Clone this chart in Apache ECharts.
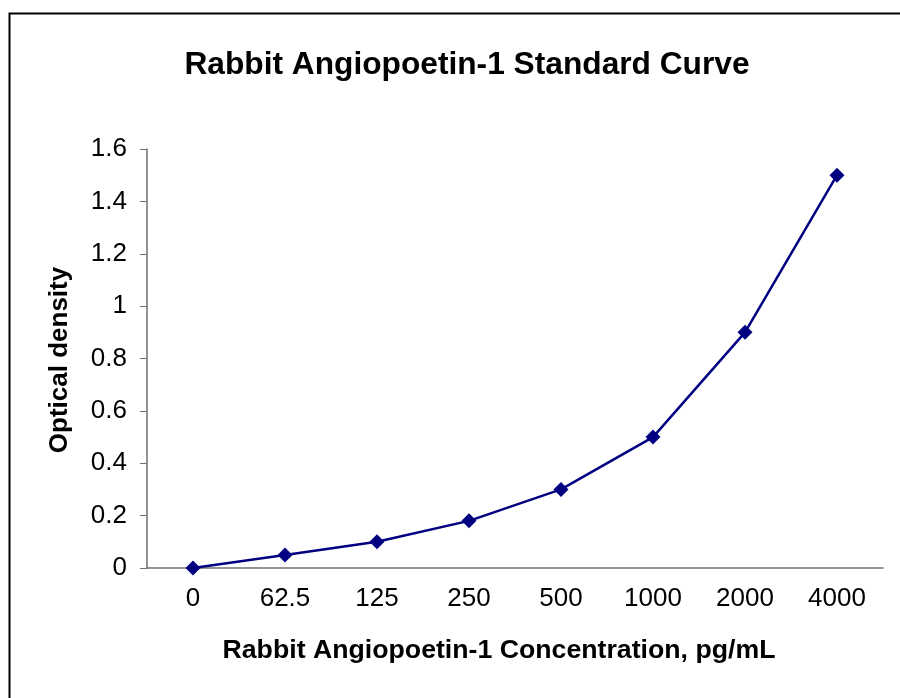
<!DOCTYPE html>
<html>
<head>
<meta charset="utf-8">
<script src="https://cdn.jsdelivr.net/npm/echarts@6/dist/echarts.min.js"></script>
<style>
  html, body { margin: 0; padding: 0; background: #fff; }
  #chart { width: 900px; height: 698px; }
</style>
</head>
<body>
<div id="chart"></div>
<script>
// 标准曲线数据
var concentrations = ['0', '62.5', '125', '250', '500', '1000', '2000', '4000'];
var odValues = [0, 0.05, 0.1, 0.18, 0.3, 0.5, 0.9, 1.5];

var chart = echarts.init(document.getElementById('chart'));
var fontFam = 'Liberation Sans, Arial, sans-serif';

var option = {
    backgroundColor: '#fff',
    animation: false,
    title: [{
        text: 'Rabbit Angiopoetin-1 Standard Curve',
        left: 462, top: 44, textAlign: 'center',
        textStyle: { fontFamily: fontFam, fontSize: 31.7, fontWeight: 'bold', color: '#000' }
    }, {
        text: 'Rabbit Angiopoetin-1 Concentration, pg/mL',
        left: 494, top: 632, textAlign: 'center',
        textStyle: { fontFamily: fontFam, fontSize: 26.7, fontWeight: 'bold', color: '#000' }
    }],
    graphic: [{
        type: 'rect',
        shape: { x: 9.5, y: 13.5, width: 900, height: 700 },
        style: { fill: 'none', stroke: '#000', lineWidth: 2 }
    }, {
        type: 'text',
        x: 60, y: 360, rotation: Math.PI / 2,
        style: {
            text: 'Optical density', fontFamily: fontFam, fontSize: 26, fontWeight: 'bold',
            fill: '#000', align: 'center', verticalAlign: 'middle'
        }
    }],
    grid: { left: 147, right: 17, top: 149, bottom: 130 },
    xAxis: {
        type: 'category',
        data: concentrations,
        boundaryGap: true,
        axisLine: { lineStyle: { color: '#707070', width: 1.5 } },
        axisTick: { length: 7, lineStyle: { color: '#333' } },
        axisLabel: { color: '#000', fontFamily: fontFam, fontSize: 26, margin: 18 }
    },
    yAxis: {
        type: 'value',
        min: 0, max: 1.6, interval: 0.2,
        axisLine: { show: true, lineStyle: { color: '#707070', width: 1.5 } },
        axisTick: { show: true, length: 7, lineStyle: { color: '#707070' } },
        splitLine: { show: false },
        axisLabel: {
            color: '#000', fontFamily: fontFam, fontSize: 26, margin: 20,
            formatter: function (v) { return +v.toFixed(1) + ''; }
        }
    },
    series: [{
        type: 'line',
        data: odValues,
        symbol: 'diamond',
        symbolSize: 15,
        lineStyle: { color: '#000080', width: 2.5 },
        itemStyle: { color: '#000080' }
    }]
};
chart.setOption(option);
</script>
</body>
</html>
